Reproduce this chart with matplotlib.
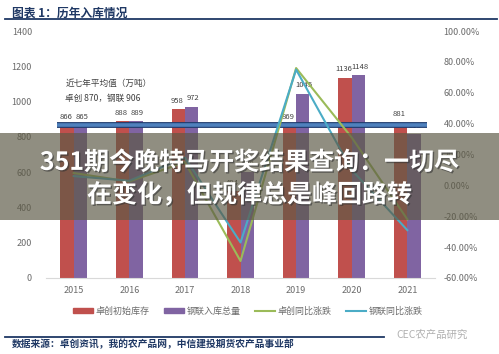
import numpy as np
import matplotlib
matplotlib.use('Agg')
import matplotlib.pyplot as plt
import matplotlib.patheffects as pe
from matplotlib.patches import Rectangle, Patch
from matplotlib.lines import Line2D

plt.rcParams['font.family'] = ['Noto Sans CJK SC', 'DejaVu Sans']

years = ['2015', '2016', '2017', '2018', '2019', '2020', '2021']
zc_stock = [866, 888, 958, 494, 869, 1136, 881]
gl_total = [865, 889, 972, 598, 1045, 1148, 818]
zc_yoy = [8, 2.5, 15, -49, 76, 31, -22]
gl_yoy = [6, 3, 18, -37, 75, 10, -29]
avg_zc = 870

RED = '#c0504d'
PURPLE = '#8064a2'
OLIVE = '#9bbb59'
TEAL = '#4bacc6'
NAVY = '#1f3864'
GRAY = '#6b6b6b'


def main():
    fig = plt.figure(figsize=(4.99, 3.54), dpi=100)
    ax = fig.add_axes([0.092, 0.2147, 0.780, 0.6977])
    ax2 = ax.twinx()

    x = np.arange(len(years))
    w = 0.24
    b1 = ax.bar(x - w / 2, zc_stock, w, color=RED, zorder=2)
    b2 = ax.bar(x + w / 2, gl_total, w, color=PURPLE, zorder=2)
    for bars, vals, dx in ((b1, zc_stock, -1), (b2, gl_total, 1)):
        for r, v in zip(bars, vals):
            ax.annotate(str(v), (r.get_x() + r.get_width() / 2, v),
                        xytext=(dx, 3), textcoords='offset points',
                        ha='center', va='bottom', fontsize=5.5, color='#404040',
                        zorder=3)

    ax.plot([-0.3, 6.35], [avg_zc, avg_zc], color='#4f81bd', lw=2.6, zorder=5,
            solid_capstyle='butt',
            path_effects=[pe.Stroke(linewidth=4.2, foreground='#1f3b6e'), pe.Normal()])

    ax.text(-0.15, 1105, '近七年平均值（万吨）', fontsize=6.2, color='#404040', va='center')
    ax.text(-0.15, 1015, '卓创 870，钢联 906', fontsize=6.2, color='#404040', va='center')

    ax.set_xlim(-0.5, 6.5)
    ax.set_ylim(0, 1400)
    ax.set_yticks(range(0, 1401, 200))
    ax.set_xticks(x, years)

    ax2.plot(x, zc_yoy, color=OLIVE, lw=1.5, zorder=4)
    ax2.plot(x, gl_yoy, color=TEAL, lw=1.5, zorder=4)
    ax2.set_ylim(-60, 100)
    ax2.set_yticks(range(-60, 101, 20))
    ax2.set_yticklabels(['%.2f%%' % t for t in range(-60, 101, 20)])

    for a in (ax, ax2):
        for s in a.spines.values():
            s.set_visible(False)
        a.tick_params(length=0, labelsize=6.5, labelcolor=GRAY)
    ax.spines['bottom'].set_visible(True)
    ax.spines['bottom'].set_color('#d9d9d9')
    ax.tick_params(axis='x', pad=6)
    ax.tick_params(axis='y', pad=10)
    ax2.tick_params(axis='y', pad=6)

    handles = [Patch(color=RED), Patch(color=PURPLE),
               Line2D([], [], color=OLIVE, lw=1.5), Line2D([], [], color=TEAL, lw=1.5)]
    labels = ['卓创初始库存', '钢联入库总量', '卓创同比涨跌', '钢联同比涨跌']
    leg = fig.legend(handles, labels, loc='center', bbox_to_anchor=(0.497, 0.121),
                     ncol=4, frameon=False, fontsize=6.5, handlelength=2.2,
                     handleheight=0.5, columnspacing=1.6, handletextpad=0.3)
    for t in leg.get_texts():
        t.set_color(GRAY)

    # title and rules
    fig.text(0.024, 0.963, '图表 1：历年入库情况', fontsize=8.5, weight='bold',
             color=NAVY, va='center')
    fig.add_artist(Line2D([0.01, 0.995], [0.945, 0.945], color=NAVY, lw=1.3))
    fig.add_artist(Line2D([0.01, 0.77], [0.048, 0.048], color=NAVY, lw=1.3))
    fig.text(0.024, 0.028, '数据来源：卓创资讯，我的农产品网，中信建投期货农产品事业部',
             fontsize=7, weight='bold', color=NAVY, va='center')
    fig.text(0.795, 0.055, 'CEC农产品研究', fontsize=7.5, color='#b0b0b0', va='center')

    # overlay banner
    fig.add_artist(Rectangle((0, 0.379), 1, 0.246, transform=fig.transFigure,
                             facecolor='#5c5945', alpha=0.68, edgecolor='none', zorder=10))
    shadow = [pe.withSimplePatchShadow(offset=(1, -1), shadow_rgbFace='#333333', alpha=0.6)]
    fig.text(0.5, 0.54, '351期今晚特马开奖结果查询：一切尽', fontsize=18, weight='bold',
             color='white', ha='center', va='center', zorder=11, path_effects=shadow)
    fig.text(0.5, 0.45, '在变化，但规律总是峰回路转', fontsize=18, weight='bold',
             color='white', ha='center', va='center', zorder=11, path_effects=shadow)

    fig.savefig('out.png', dpi=100)


if __name__ == '__main__':
    main()
